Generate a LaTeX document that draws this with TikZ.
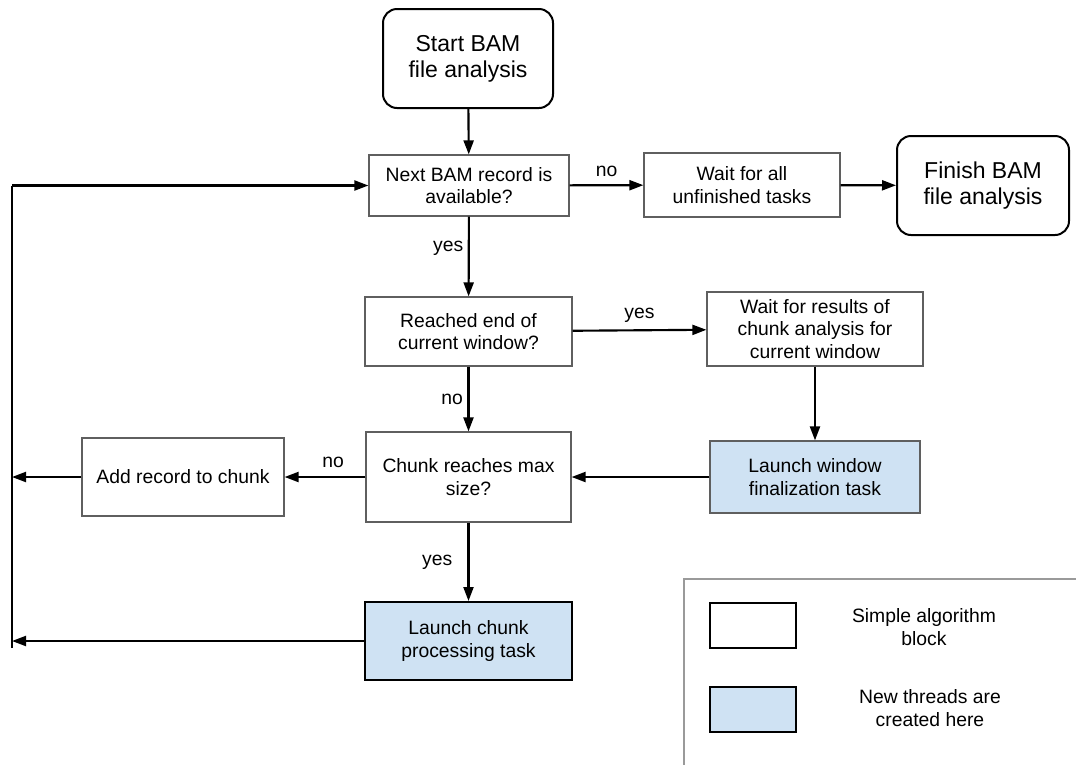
\documentclass[tikz,border=0pt]{standalone}
\usepackage{fontspec}
\setmainfont{Liberation Sans}
\usetikzlibrary{arrows.meta}
\definecolor{threadblue}{HTML}{CFE2F3}
\definecolor{boxgrey}{HTML}{5F5F5F}
\definecolor{framegrey}{HTML}{9A9A9A}
\tikzstyle{startstop} = [rectangle, rounded corners=10.5pt, align=center, draw=black, line width=1.5pt, font=\fontsize{17.25}{19.5}\selectfont, minimum height=74.25pt]
\tikzstyle{process} = [rectangle, align=center, draw=boxgrey, line width=0.9pt, fill=white, font=\fontsize{14.5}{17}\selectfont]
\tikzstyle{launch} = [process, fill=threadblue]
\tikzstyle{legendbox} = [rectangle, draw=black, line width=1.5pt, minimum width=64.5pt, minimum height=33.75pt]
\tikzstyle{lbl} = [font=\fontsize{14.5}{17}\selectfont]
\tikzstyle{arrow} = [line width=1.6pt, -{Triangle[length=10.5pt, width=7.5pt]}]

\begin{document}
\begin{tikzpicture}[x=0.75pt, y=-0.75pt]
\useasboundingbox (0,0) rectangle (1076,765);

\node (start) [startstop, minimum width=127.5pt] at (468,58.5)
	{Start BAM\\file analysis};
\node (next) [process, minimum width=150pt, minimum height=45.75pt] at (469,185.5)
	{Next BAM record is\\available?};
\node (waitall) [process, minimum width=147pt, minimum height=48pt] at (742,185)
	{Wait for all\\unfinished tasks};
\node (finish) [startstop, minimum width=129pt] at (983,185.5)
	{Finish BAM\\file analysis};
\node (reached) [process, minimum width=155.25pt, minimum height=51.75pt] at (468.5,331.5)
	{Reached end of\\current window?};
\node (waitres) [process, minimum width=162pt, minimum height=55.5pt] at (815,329)
	{Wait for results of\\chunk analysis for\\current window};
\node (launchwin) [launch, minimum width=157.5pt, minimum height=54pt] at (815,477)
	{Launch window\\finalization task};
\node (chunk) [process, minimum width=153.75pt, minimum height=67.5pt] at (468.5,477)
	{Chunk reaches max\\size?};
\node (addrec) [process, minimum width=151.5pt, minimum height=58.5pt] at (183,477)
	{Add record to chunk};
\node (launchchunk) [launch, draw=black, line width=1.5pt, minimum width=155.25pt, minimum height=58.5pt] at (468.5,641)
	{Launch chunk\\processing task};

\coordinate (looptop) at (12,185.5);
\coordinate (loopbot) at (12,648);

\draw [arrow] (start) -- (next);
\draw [arrow] (next) -- node[lbl, above=2pt] {no} (waitall);
\draw [arrow] (waitall) -- (finish);
\draw [arrow] (next) -- node[lbl, left, pos=0.4] {yes} (reached);
\draw [arrow] (reached) -- node[lbl, above=2pt] {yes} (waitres);
\draw [arrow] (waitres) -- (launchwin);
\draw [arrow] (launchwin) -- (chunk);
\draw [arrow] (reached) -- node[lbl, left] {no} (chunk);
\draw [arrow] (chunk) -- node[lbl, above=3pt, pos=0.4] {no} (addrec);
\draw [arrow] (chunk) -- node[lbl, left=8pt] {yes} (launchchunk);

% way back to the next record
\draw [line width=1.6pt] (loopbot) -- (looptop);
\draw [arrow] (looptop) -- (next);
\draw [arrow] (addrec) -- (addrec.west -| looptop);
\draw [arrow] (launchchunk) -- (launchchunk.west -| looptop);

% legend
\draw [framegrey, line width=0.8pt] (1076,579) -- (684,579) -- (684,765);
\node (legsimple) [legendbox, fill=white] at (753,625.5) {};
\node (legthread) [legendbox, fill=threadblue] at (753,709.5) {};
\node (legsimpletxt) [lbl, align=center] at (924,627) {Simple algorithm\\block};
\node (legthreadtxt) [lbl, align=center] at (930,708) {New threads are\\created here};

\end{tikzpicture}
\end{document}
